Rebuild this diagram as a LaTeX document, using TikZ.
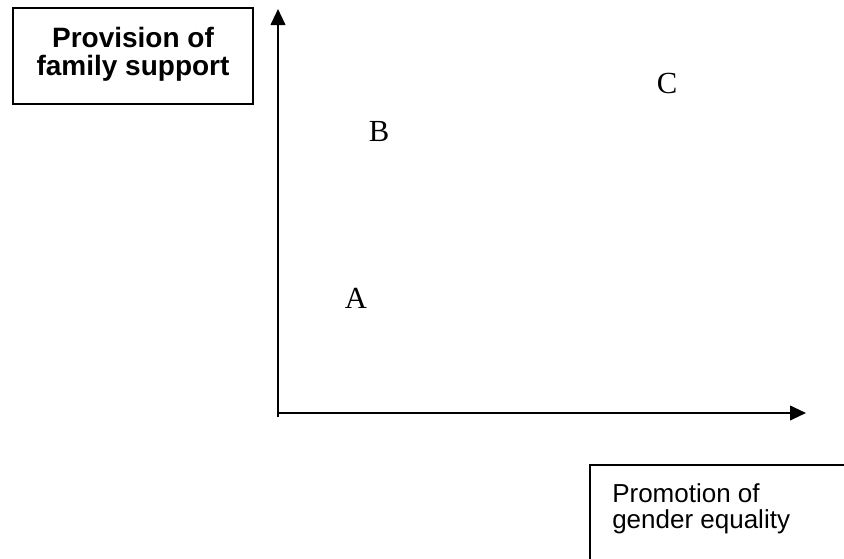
\documentclass[tikz,border=0pt]{standalone}
\usepackage{fontspec}
\setmainfont{Liberation Serif}
\setsansfont{Liberation Sans}
\usetikzlibrary{arrows.meta}

\tikzset{axis/.style={line width=1.5pt,-{Triangle[length=12pt,width=11pt]}},
  point/.style={font=\fontsize{23}{26}\selectfont}}

\begin{document}
\begin{tikzpicture}[x=0.75pt,y=-0.75pt]
\useasboundingbox (0,0) rectangle (844,558);
\clip (0,0) rectangle (844,558);
\coordinate (O) at (278,413);
\coordinate (Ob) at (278,417);
\coordinate (Y) at (278,9);
\coordinate (X) at (806,413);
\draw [axis](Ob) -- (Y);
\draw [axis](O) -- (X);
\node [draw,line width=1.5pt,minimum width=180pt,minimum height=72pt,align=center,
  font=\sffamily\bfseries\fontsize{21}{22}\selectfont] (supp) at (133,56)
  {\raisebox{2pt}{\begin{tabular}{@{}c@{}}Provision of\\[-1pt]family support\end{tabular}}};
\draw [line width=1.5pt] (590,570) |- (860,465);
\node [anchor=north west,inner sep=0pt,align=left,
  font=\sffamily\fontsize{19.5}{20}\selectfont] (gend) at (612,483)
  {Promotion of\\gender equality};
\node [point] (A) at (356,298) {A};
\node [point] (B) at (379,131) {B};
\node [point] (C) at (667,83) {C};

\end{tikzpicture}
\end{document}
